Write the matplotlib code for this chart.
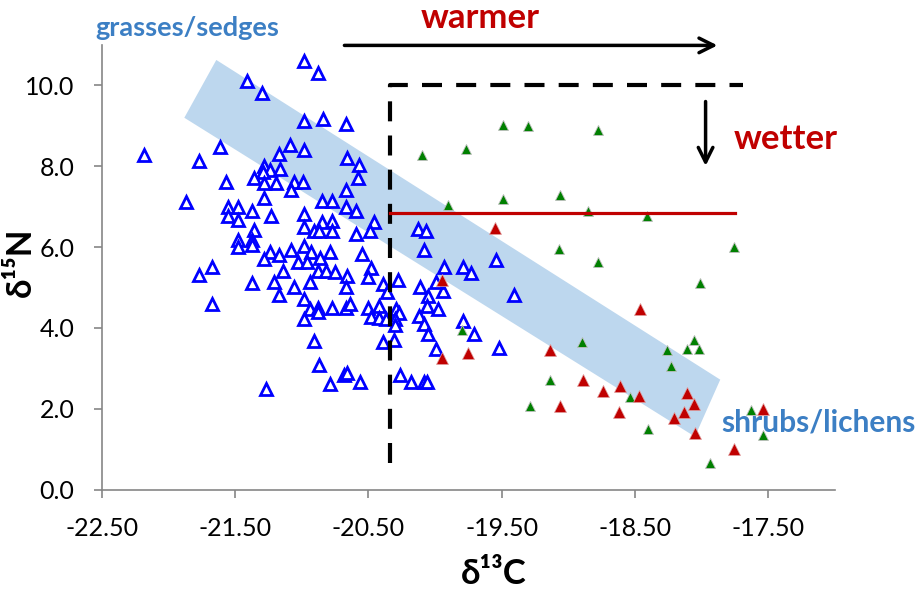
import matplotlib
matplotlib.use("Agg")
import matplotlib.pyplot as plt
from matplotlib.patches import Polygon

plt.rcParams.update({
    "font.family": ["Lato", "DejaVu Sans"],
    "font.size": 15,
})

# --- data ---
grass_c = [-21.41, -21.30, -22.18, -21.61, -21.77, -21.09, -21.17, -21.28, -21.24, -21.16,
           -21.29, -21.36, -21.57, -21.28, -21.19, -21.06, -21.08, -21.87, -21.28, -21.55,
           -21.48, -21.37, -21.55, -21.23, -21.48, -21.36,
           -21.48, -21.48, -21.37, -21.37, -21.24, -21.28, -21.17, -21.08, -21.03, -21.14,
           -21.67, -21.77, -21.37, -21.21, -21.06, -21.17, -21.67, -21.27,
           -20.98, -20.88, -20.98, -20.84, -20.67, -20.98, -20.66, -20.57, -20.58, -20.99,
           -20.67, -20.85, -20.77, -20.67, -20.59, -20.98, -20.98, -20.85, -20.77, -20.91,
           -20.87, -20.77, -20.46, -20.49, -20.59, -20.13, -20.07,
           -20.98, -20.93, -20.79, -20.86, -20.96, -20.55, -20.88, -20.82, -20.75, -20.66,
           -20.48, -20.50, -20.94, -20.67, -20.98, -20.94, -20.88, -20.88, -20.77, -20.67,
           -20.64, -20.98, -20.50, -20.42, -20.48, -20.42, -20.37, -20.39, -20.36, -20.28,
           -20.29, -20.27, -20.30, -20.30, -20.91, -20.39, -20.31, -20.87, -20.79, -20.68,
           -20.66, -20.56, -20.26, -20.18, -20.08, -20.06, -20.11, -20.05, -20.06, -19.98,
           -20.12, -20.08, -20.05, -20.08, -19.93, -19.79, -19.73, -19.94, -19.99, -19.79,
           -19.71, -19.99, -19.54, -19.41, -19.52]
grass_n = [10.11, 9.82, 8.29, 8.48, 8.12, 8.52, 8.31, 8.00, 7.90, 7.94,
           7.86, 7.71, 7.61, 7.59, 7.59, 7.61, 7.40, 7.11, 7.21, 7.00,
           7.00, 6.90, 6.78, 6.78, 6.67, 6.43,
           6.18, 6.01, 6.18, 6.05, 5.88, 5.70, 5.81, 5.93, 5.62, 5.40,
           5.51, 5.31, 5.10, 5.14, 5.00, 4.81, 4.58, 2.49,
           10.60, 10.30, 9.11, 9.16, 9.04, 8.41, 8.21, 8.02, 7.71, 7.61,
           7.40, 7.15, 7.13, 6.99, 6.90, 6.82, 6.50, 6.63, 6.65, 6.41,
           6.41, 6.41, 6.63, 6.41, 6.32, 6.45, 6.41,
           6.02, 5.87, 5.87, 5.72, 5.62, 5.84, 5.41, 5.41, 5.39, 5.29,
           5.49, 5.25, 5.14, 5.00, 4.71, 4.46, 4.50, 4.39, 4.50, 4.50,
           4.58, 4.21, 4.50, 4.53, 4.27, 4.25, 4.21, 5.08, 4.89, 5.18,
           4.46, 4.38, 4.21, 4.06, 3.67, 3.65, 3.70, 3.08, 2.62, 2.83,
           2.89, 2.65, 2.83, 2.65, 2.65, 2.65, 5.00, 4.79, 4.53, 4.46,
           4.29, 4.09, 3.84, 5.93, 5.51, 5.51, 5.35, 4.91, 5.14, 4.17,
           3.84, 3.47, 5.68, 4.81, 3.51]

green_c = [-20.10, -19.77, -19.90, -19.80, -19.49, -19.30, -18.78, -19.49, -19.06, -18.85,
           -18.41, -19.07, -18.78, -18.90, -19.14, -18.54, -19.29, -18.40, -18.01, -18.06,
           -18.11, -18.02, -18.26, -18.23, -17.63, -17.54, -17.94, -17.76]
green_n = [8.29, 8.43, 7.03, 3.94, 9.01, 8.99, 8.89, 7.18, 7.29, 6.89,
           6.76, 5.95, 5.63, 3.65, 2.70, 2.29, 2.08, 1.50, 5.11, 3.69,
           3.47, 3.47, 3.45, 3.05, 1.98, 1.34, 0.65, 5.99]

red_c = [-19.95, -19.95, -19.75, -19.55, -18.46, -19.14, -18.89, -18.74, -18.61, -18.47,
         -19.06, -18.62, -18.11, -18.06, -18.13, -18.21, -18.05, -17.54, -17.76]
red_n = [5.19, 3.26, 3.38, 6.46, 4.48, 3.45, 2.72, 2.45, 2.57, 2.31,
         2.08, 1.93, 2.39, 2.12, 1.93, 1.78, 1.40, 2.00, 1.00]

band_c = [-21.64, -21.88, -18.05, -17.86]
band_n = [10.63, 9.20, 1.31, 2.72]

x_ticks = [-22.5, -21.5, -20.5, -19.5, -18.5, -17.5]
y_ticks = [0, 2, 4, 6, 8, 10]

DARK_RED = "#C00000"
LABEL_BLUE = "#3C7FC4"

fig = plt.figure(figsize=(9.2, 5.92), dpi=100)
ax = fig.add_axes([0.1105, 0.173, 0.797, 0.751])

ax.add_patch(Polygon(list(zip(band_c, band_n)), closed=True,
                     facecolor="#BDD7EE", edgecolor="none", zorder=1))

ax.plot(grass_c, grass_n, linestyle="none", marker="^", ms=8.5, mfc="white",
        mec="#0000FF", mew=2.0, zorder=3)
ax.plot(green_c, green_n, linestyle="none", marker="^", ms=7, mfc="#008000",
        mec="#BFBFBF", mew=0.6, zorder=4)
ax.plot(red_c, red_n, linestyle="none", marker="^", ms=8, mfc=DARK_RED,
        mec="#E0A0A0", mew=0.5, zorder=4)

# dashed box and the red line
ax.plot([-20.34, -20.34, -17.69], [0.66, 10.0, 10.0], color="black", lw=3,
        dashes=(4.8, 3.4), solid_capstyle="butt", zorder=5)
ax.plot([-20.34, -17.75], [6.84, 6.84], color=DARK_RED, lw=2.3, zorder=5)

# arrows
ax.annotate("", xy=(-17.86, 10.99), xytext=(-20.70, 10.99), annotation_clip=False,
            arrowprops=dict(arrowstyle="->,head_length=0.7,head_width=0.35",
                            color="black", lw=2.5))
ax.annotate("", xy=(-17.97, 7.94), xytext=(-17.97, 9.67), annotation_clip=False,
            arrowprops=dict(arrowstyle="->,head_length=0.7,head_width=0.35",
                            color="black", lw=2.5))

ax.text(-19.66, 11.66, "warmer", color=DARK_RED, fontsize=25, fontweight="bold",
        ha="center", va="center", clip_on=False)
ax.text(-17.76, 8.68, "wetter", color=DARK_RED, fontsize=25, fontweight="bold",
        ha="left", va="center", clip_on=False)
ax.text(-22.55, 11.42, "grasses/sedges", color=LABEL_BLUE, fontsize=19.5,
        fontweight="bold", ha="left", va="center", clip_on=False)
ax.text(-17.85, 1.65, "shrubs/lichens", color=LABEL_BLUE, fontsize=21.5,
        fontweight="bold", ha="left", va="center", clip_on=False)

ax.set_xlim(-22.5, -17.0)
ax.set_ylim(0, 11.0)
ax.set_xticks(x_ticks)
ax.set_xticklabels([f"{v:.2f}" for v in x_ticks])
ax.set_yticks(y_ticks)
ax.set_yticklabels([f"{v:.1f}" for v in y_ticks])

for s in ["top", "right"]:
    ax.spines[s].set_visible(False)
for s in ["left", "bottom"]:
    ax.spines[s].set_color("#868686")
    ax.spines[s].set_linewidth(1.2)
ax.tick_params(axis="both", colors="#868686", labelcolor="black", length=5.5,
               width=1.2, labelsize=18)
ax.tick_params(axis="x", pad=14)
ax.tick_params(axis="y", pad=14)

ax.set_xlabel("δ¹³C", fontsize=25, fontweight="bold")
ax.set_ylabel("δ¹⁵N", fontsize=25, fontweight="bold")
ax.xaxis.set_label_coords(0.535, -0.155)
ax.yaxis.set_label_coords(-0.088, 0.512)

fig.savefig("out.png", dpi=100)
